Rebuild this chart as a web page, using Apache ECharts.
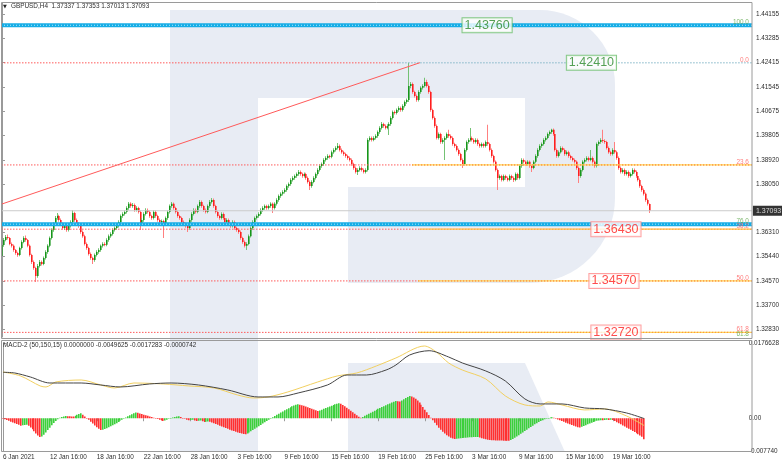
<!DOCTYPE html>
<html><head><meta charset="utf-8">
<script src="https://cdn.jsdelivr.net/npm/echarts@6/dist/echarts.min.js"></script>
<style>html,body{margin:0;padding:0;background:#fff}#c{width:782px;height:464px}</style>
</head><body><div id="c"></div><script>
// ---------------- DATA ----------------
const symbolTitle = 'GBPUSD,H4  1.37337 1.37353 1.37013 1.37093';
const macdTitle = 'MACD-2 (50,150,15) 0.0000000 -0.0049625 -0.0017283 -0.0000742';

// H4 candles: [open, close, low, high]
const candles = [
[1.3547,1.3586,1.3541,1.3593],[1.3586,1.3604,1.3580,1.3611],[1.3604,1.3615,1.3600,1.3622],[1.3615,1.3611,1.3606,1.3624],[1.3611,1.3590,1.3585,1.3615],
[1.3590,1.3583,1.3577,1.3595],[1.3583,1.3568,1.3562,1.3588],[1.3568,1.3557,1.3551,1.3572],[1.3557,1.3550,1.3544,1.3562],[1.3550,1.3575,1.3546,1.3580],
[1.3575,1.3597,1.3570,1.3603],[1.3597,1.3611,1.3592,1.3618],[1.3611,1.3604,1.3598,1.3620],[1.3604,1.3583,1.3578,1.3608],[1.3583,1.3550,1.3545,1.3588],
[1.3550,1.3525,1.3518,1.3555],[1.3525,1.3503,1.3497,1.3530],[1.3503,1.3475,1.3453,1.3508],[1.3475,1.3511,1.3468,1.3518],[1.3511,1.3525,1.3505,1.3532],
[1.3525,1.3518,1.3512,1.3530],[1.3518,1.3539,1.3513,1.3545],[1.3539,1.3561,1.3534,1.3567],[1.3561,1.3583,1.3555,1.3589],[1.3583,1.3611,1.3578,1.3617],
[1.3611,1.3640,1.3606,1.3646],[1.3640,1.3662,1.3634,1.3668],[1.3662,1.3683,1.3656,1.3690],[1.3683,1.3690,1.3677,1.3701],[1.3690,1.3676,1.3670,1.3695],
[1.3676,1.3662,1.3656,1.3681],[1.3662,1.3647,1.3641,1.3667],[1.3647,1.3654,1.3640,1.3660],[1.3654,1.3640,1.3634,1.3659],[1.3640,1.3654,1.3635,1.3660],
[1.3654,1.3669,1.3649,1.3675],[1.3669,1.3701,1.3664,1.3712],[1.3701,1.3676,1.3670,1.3706],[1.3676,1.3662,1.3656,1.3681],[1.3662,1.3654,1.3648,1.3668],
[1.3654,1.3633,1.3627,1.3659],[1.3633,1.3618,1.3612,1.3638],[1.3618,1.3590,1.3584,1.3623],[1.3590,1.3575,1.3569,1.3595],[1.3575,1.3554,1.3548,1.3580],
[1.3554,1.3539,1.3533,1.3559],[1.3539,1.3532,1.3518,1.3544],[1.3532,1.3550,1.3526,1.3556],[1.3550,1.3561,1.3545,1.3567],[1.3561,1.3568,1.3555,1.3574],
[1.3568,1.3583,1.3562,1.3588],[1.3583,1.3590,1.3577,1.3596],[1.3590,1.3587,1.3582,1.3596],[1.3587,1.3604,1.3582,1.3610],[1.3604,1.3618,1.3598,1.3624],
[1.3618,1.3626,1.3612,1.3632],[1.3626,1.3640,1.3620,1.3646],[1.3640,1.3647,1.3635,1.3653],[1.3647,1.3654,1.3641,1.3660],[1.3654,1.3669,1.3649,1.3675],
[1.3669,1.3690,1.3663,1.3696],[1.3690,1.3698,1.3684,1.3704],[1.3698,1.3705,1.3692,1.3711],[1.3705,1.3719,1.3699,1.3725],[1.3719,1.3734,1.3713,1.3741],
[1.3734,1.3726,1.3720,1.3740],[1.3726,1.3730,1.3720,1.3737],[1.3730,1.3712,1.3706,1.3735],[1.3712,1.3719,1.3707,1.3725],[1.3719,1.3705,1.3699,1.3724],
[1.3705,1.3662,1.3640,1.3710],[1.3662,1.3676,1.3656,1.3682],[1.3676,1.3698,1.3670,1.3704],[1.3698,1.3712,1.3692,1.3718],[1.3712,1.3705,1.3699,1.3717],
[1.3705,1.3690,1.3684,1.3710],[1.3690,1.3683,1.3677,1.3695],[1.3683,1.3705,1.3678,1.3711],[1.3705,1.3690,1.3684,1.3710],[1.3690,1.3676,1.3670,1.3695],
[1.3676,1.3669,1.3663,1.3681],[1.3669,1.3672,1.3663,1.3678],[1.3672,1.3662,1.3611,1.3677],[1.3662,1.3683,1.3656,1.3689],[1.3683,1.3705,1.3677,1.3711],
[1.3705,1.3726,1.3699,1.3732],[1.3726,1.3734,1.3720,1.3741],[1.3734,1.3719,1.3713,1.3739],[1.3719,1.3705,1.3699,1.3724],[1.3705,1.3690,1.3684,1.3710],
[1.3690,1.3683,1.3677,1.3695],[1.3683,1.3669,1.3663,1.3688],[1.3669,1.3662,1.3656,1.3674],[1.3662,1.3654,1.3648,1.3667],[1.3654,1.3647,1.3633,1.3659],
[1.3647,1.3676,1.3641,1.3682],[1.3676,1.3698,1.3670,1.3704],[1.3698,1.3712,1.3692,1.3718],[1.3712,1.3705,1.3699,1.3717],[1.3705,1.3726,1.3700,1.3732],
[1.3726,1.3741,1.3720,1.3748],[1.3741,1.3726,1.3720,1.3746],[1.3726,1.3712,1.3706,1.3731],[1.3712,1.3705,1.3699,1.3717],[1.3705,1.3726,1.3700,1.3732],
[1.3726,1.3741,1.3720,1.3748],[1.3741,1.3748,1.3735,1.3755],[1.3748,1.3726,1.3720,1.3753],[1.3726,1.3705,1.3699,1.3731],[1.3705,1.3690,1.3684,1.3710],
[1.3690,1.3683,1.3677,1.3695],[1.3683,1.3698,1.3678,1.3704],[1.3698,1.3683,1.3677,1.3703],[1.3683,1.3669,1.3663,1.3688],[1.3669,1.3676,1.3663,1.3682],
[1.3676,1.3662,1.3656,1.3681],[1.3662,1.3654,1.3648,1.3667],[1.3654,1.3669,1.3649,1.3675],[1.3669,1.3647,1.3641,1.3674],[1.3647,1.3640,1.3634,1.3652],
[1.3640,1.3633,1.3627,1.3645],[1.3633,1.3611,1.3605,1.3638],[1.3611,1.3597,1.3591,1.3616],[1.3597,1.3583,1.3577,1.3602],[1.3583,1.3590,1.3568,1.3596],
[1.3590,1.3618,1.3585,1.3624],[1.3618,1.3647,1.3613,1.3653],[1.3647,1.3669,1.3641,1.3675],[1.3669,1.3683,1.3663,1.3689],[1.3683,1.3690,1.3678,1.3696],
[1.3690,1.3698,1.3684,1.3704],[1.3698,1.3712,1.3692,1.3718],[1.3712,1.3719,1.3706,1.3725],[1.3719,1.3726,1.3713,1.3732],[1.3726,1.3719,1.3713,1.3731],
[1.3719,1.3726,1.3714,1.3732],[1.3726,1.3734,1.3720,1.3740],[1.3734,1.3719,1.3701,1.3739],[1.3719,1.3734,1.3714,1.3740],[1.3734,1.3748,1.3728,1.3754],
[1.3748,1.3762,1.3742,1.3768],[1.3762,1.3770,1.3756,1.3776],[1.3770,1.3777,1.3764,1.3783],[1.3777,1.3784,1.3771,1.3790],[1.3784,1.3798,1.3778,1.3804],
[1.3798,1.3805,1.3792,1.3811],[1.3805,1.3820,1.3799,1.3826],[1.3820,1.3827,1.3814,1.3833],[1.3827,1.3834,1.3821,1.3840],[1.3834,1.3841,1.3828,1.3847],
[1.3841,1.3849,1.3835,1.3856],[1.3849,1.3841,1.3835,1.3854],[1.3841,1.3834,1.3828,1.3846],[1.3834,1.3841,1.3829,1.3847],[1.3841,1.3827,1.3821,1.3846],
[1.3827,1.3813,1.3807,1.3832],[1.3813,1.3798,1.3784,1.3818],[1.3798,1.3813,1.3792,1.3819],[1.3813,1.3827,1.3808,1.3833],[1.3827,1.3841,1.3822,1.3847],
[1.3841,1.3856,1.3836,1.3862],[1.3856,1.3870,1.3850,1.3876],[1.3870,1.3877,1.3864,1.3883],[1.3877,1.3892,1.3871,1.3898],[1.3892,1.3899,1.3886,1.3905],
[1.3899,1.3906,1.3893,1.3912],[1.3906,1.3903,1.3897,1.3911],[1.3903,1.3920,1.3898,1.3926],[1.3920,1.3928,1.3914,1.3934],[1.3928,1.3935,1.3922,1.3941],
[1.3935,1.3942,1.3929,1.3953],[1.3942,1.3928,1.3922,1.3947],[1.3928,1.3920,1.3914,1.3933],[1.3920,1.3913,1.3907,1.3925],[1.3913,1.3906,1.3900,1.3918],
[1.3906,1.3899,1.3893,1.3911],[1.3899,1.3892,1.3886,1.3904],[1.3892,1.3877,1.3871,1.3897],[1.3877,1.3863,1.3857,1.3882],[1.3863,1.3849,1.3843,1.3868],
[1.3849,1.3856,1.3838,1.3862],[1.3856,1.3863,1.3850,1.3869],[1.3863,1.3856,1.3850,1.3868],[1.3856,1.3849,1.3843,1.3861],[1.3849,1.3856,1.3843,1.3862],
[1.3856,1.3964,1.3850,1.3970],[1.3964,1.3971,1.3958,1.3977],[1.3971,1.3964,1.3958,1.3976],[1.3964,1.3971,1.3959,1.3977],[1.3971,1.3978,1.3965,1.3984],
[1.3978,1.3992,1.3972,1.3998],[1.3992,1.4007,1.3986,1.4013],[1.4007,1.4021,1.4001,1.4028],[1.4021,1.4014,1.4008,1.4026],[1.4014,1.4007,1.4001,1.4019],
[1.4007,1.4014,1.4002,1.4020],[1.4014,1.4021,1.3982,1.4027],[1.4021,1.4043,1.4015,1.4049],[1.4043,1.4064,1.4037,1.4070],[1.4064,1.4061,1.4055,1.4070],
[1.4061,1.4071,1.4055,1.4077],[1.4071,1.4079,1.4065,1.4085],[1.4079,1.4071,1.4065,1.4084],[1.4071,1.4086,1.4066,1.4092],[1.4086,1.4100,1.4080,1.4106],
[1.4100,1.4107,1.4094,1.4113],[1.4107,1.4158,1.4100,1.4241],[1.4158,1.4165,1.4150,1.4172],[1.4165,1.4136,1.4130,1.4170],[1.4136,1.4122,1.4116,1.4141],
[1.4122,1.4107,1.4101,1.4127],[1.4107,1.4136,1.4102,1.4142],[1.4136,1.4151,1.4130,1.4157],[1.4151,1.4158,1.4145,1.4164],[1.4158,1.4172,1.4152,1.4187],
[1.4172,1.4158,1.4152,1.4180],[1.4158,1.4136,1.4130,1.4163],[1.4136,1.4071,1.4065,1.4141],[1.4071,1.4043,1.4037,1.4076],[1.4043,1.4014,1.4008,1.4048],
[1.4014,1.3971,1.3965,1.4019],[1.3971,1.3985,1.3965,1.3991],[1.3985,1.3956,1.3950,1.3990],[1.3956,1.3964,1.3950,1.3970],[1.3964,1.3971,1.3892,1.3977],
[1.3971,1.3985,1.3965,1.3991],[1.3985,1.3978,1.3972,1.4000],[1.3978,1.3971,1.3965,1.3983],[1.3971,1.3949,1.3943,1.3976],[1.3949,1.3942,1.3936,1.3954],
[1.3942,1.3928,1.3922,1.3947],[1.3928,1.3913,1.3907,1.3933],[1.3913,1.3892,1.3886,1.3918],[1.3892,1.3877,1.3863,1.3897],[1.3877,1.3928,1.3872,1.3934],
[1.3928,1.3956,1.3922,1.3962],[1.3956,1.3964,1.3950,1.3970],[1.3964,1.3971,1.3958,1.4007],[1.3971,1.3964,1.3958,1.3976],[1.3964,1.3956,1.3950,1.3969],
[1.3956,1.3964,1.3951,1.3970],[1.3964,1.3949,1.3943,1.3969],[1.3949,1.3942,1.3936,1.3954],[1.3942,1.3949,1.3937,1.3955],[1.3949,1.3942,1.3936,1.3954],
[1.3942,1.3956,1.3937,1.3962],[1.3956,1.3949,1.3943,1.4018],[1.3949,1.3928,1.3922,1.3954],[1.3928,1.3906,1.3900,1.3933],[1.3906,1.3885,1.3879,1.3911],
[1.3885,1.3856,1.3850,1.3890],[1.3856,1.3827,1.3784,1.3861],[1.3827,1.3834,1.3821,1.3840],[1.3834,1.3820,1.3814,1.3839],[1.3820,1.3834,1.3815,1.3840],
[1.3834,1.3827,1.3821,1.3839],[1.3827,1.3820,1.3814,1.3832],[1.3820,1.3834,1.3815,1.3840],[1.3834,1.3827,1.3821,1.3839],[1.3827,1.3820,1.3813,1.3832],
[1.3820,1.3841,1.3815,1.3847],[1.3841,1.3827,1.3821,1.3846],[1.3827,1.3870,1.3822,1.3876],[1.3870,1.3892,1.3864,1.3898],[1.3892,1.3885,1.3879,1.3897],
[1.3885,1.3877,1.3871,1.3890],[1.3877,1.3885,1.3872,1.3891],[1.3885,1.3870,1.3864,1.3890],[1.3870,1.3863,1.3849,1.3875],[1.3863,1.3885,1.3858,1.3891],
[1.3885,1.3906,1.3880,1.3912],[1.3906,1.3928,1.3900,1.3934],[1.3928,1.3942,1.3922,1.3948],[1.3942,1.3949,1.3936,1.3955],[1.3949,1.3964,1.3944,1.3970],
[1.3964,1.3971,1.3958,1.3977],[1.3971,1.3985,1.3966,1.3991],[1.3985,1.3992,1.3979,1.3998],[1.3992,1.4000,1.3986,1.4004],[1.4000,1.3985,1.3979,1.4005],
[1.3985,1.3928,1.3922,1.3990],[1.3928,1.3906,1.3900,1.3933],[1.3906,1.3920,1.3901,1.3926],[1.3920,1.3935,1.3915,1.3941],[1.3935,1.3928,1.3922,1.3940],
[1.3928,1.3913,1.3907,1.3933],[1.3913,1.3920,1.3908,1.3926],[1.3920,1.3906,1.3900,1.3925],[1.3906,1.3899,1.3893,1.3911],[1.3899,1.3892,1.3886,1.3904],
[1.3892,1.3885,1.3879,1.3897],[1.3885,1.3863,1.3857,1.3890],[1.3863,1.3834,1.3809,1.3868],[1.3834,1.3856,1.3828,1.3862],[1.3856,1.3885,1.3850,1.3891],
[1.3885,1.3892,1.3879,1.3898],[1.3892,1.3899,1.3886,1.3905],[1.3899,1.3892,1.3886,1.3904],[1.3892,1.3899,1.3887,1.3928],[1.3899,1.3885,1.3879,1.3904],
[1.3885,1.3870,1.3864,1.3890],[1.3870,1.3949,1.3865,1.3955],[1.3949,1.3956,1.3943,1.3962],[1.3956,1.3964,1.3950,1.3970],[1.3964,1.3960,1.3954,1.4000],
[1.3960,1.3956,1.3950,1.3966],[1.3956,1.3935,1.3929,1.3961],[1.3935,1.3920,1.3914,1.3940],[1.3920,1.3913,1.3907,1.3925],[1.3913,1.3928,1.3908,1.3934],
[1.3928,1.3920,1.3914,1.3956],[1.3920,1.3899,1.3893,1.3925],[1.3899,1.3863,1.3857,1.3904],[1.3863,1.3849,1.3843,1.3868],[1.3849,1.3856,1.3843,1.3862],
[1.3856,1.3841,1.3835,1.3861],[1.3841,1.3849,1.3836,1.3855],[1.3849,1.3834,1.3828,1.3854],[1.3834,1.3841,1.3829,1.3847],[1.3841,1.3856,1.3836,1.3862],
[1.3856,1.3849,1.3843,1.3861],[1.3849,1.3834,1.3828,1.3854],[1.3834,1.3820,1.3814,1.3839],[1.3820,1.3798,1.3792,1.3825],[1.3798,1.3784,1.3778,1.3803],
[1.3784,1.3770,1.3764,1.3789],[1.3770,1.3748,1.3742,1.3775],[1.3748,1.3734,1.3728,1.3753],[1.37337,1.37093,1.37013,1.37353]
];

// MACD histogram, one value per candle
const macdHist = [
-0.00012,-0.00024,-0.00042,-0.00061,-0.00080,-0.00099,-0.00118,-0.00137,-0.00156,-0.00175,
-0.00168,-0.00160,-0.00156,-0.00179,-0.00217,-0.00260,-0.00307,-0.00359,-0.00406,-0.00444,
-0.00434,-0.00389,-0.00335,-0.00278,-0.00222,-0.00165,-0.00113,-0.00066,-0.00024,0.00009,
0.00028,0.00042,0.00054,0.00050,0.00045,0.00042,0.00040,0.00059,0.00080,0.00099,
0.00118,0.00085,0.00042,0.00005,-0.00035,-0.00080,-0.00125,-0.00170,-0.00212,-0.00250,
-0.00278,-0.00271,-0.00255,-0.00236,-0.00215,-0.00191,-0.00168,-0.00142,-0.00116,-0.00090,
-0.00061,-0.00033,-0.00007,0.00019,0.00045,0.00071,0.00094,0.00118,0.00137,0.00127,
0.00113,0.00099,0.00085,0.00071,0.00057,0.00042,0.00028,0.00014,0.00000,-0.00019,
-0.00038,-0.00054,-0.00068,-0.00052,-0.00033,-0.00014,0.00005,0.00019,0.00031,0.00040,
0.00047,0.00028,0.00007,-0.00014,-0.00033,-0.00050,-0.00042,-0.00035,-0.00052,-0.00068,
-0.00061,-0.00054,-0.00073,-0.00090,-0.00083,-0.00076,-0.00085,-0.00099,-0.00118,-0.00137,
-0.00156,-0.00175,-0.00194,-0.00212,-0.00231,-0.00250,-0.00269,-0.00288,-0.00304,-0.00321,
-0.00335,-0.00349,-0.00361,-0.00371,-0.00378,-0.00361,-0.00335,-0.00307,-0.00278,-0.00250,
-0.00219,-0.00189,-0.00158,-0.00127,-0.00097,-0.00066,-0.00035,-0.00007,0.00024,0.00052,
0.00080,0.00109,0.00135,0.00160,0.00186,0.00212,0.00236,0.00260,0.00281,0.00300,
0.00316,0.00330,0.00321,0.00307,0.00295,0.00278,0.00262,0.00245,0.00227,0.00208,
0.00186,0.00170,0.00184,0.00203,0.00222,0.00241,0.00260,0.00278,0.00295,0.00312,
0.00328,0.00342,0.00354,0.00340,0.00312,0.00281,0.00248,0.00212,0.00177,0.00142,
0.00106,0.00071,0.00038,0.00009,0.00031,0.00057,0.00080,0.00104,0.00127,0.00151,
0.00175,0.00198,0.00222,0.00243,0.00264,0.00286,0.00307,0.00328,0.00349,0.00371,
0.00389,0.00408,0.00401,0.00396,0.00420,0.00448,0.00479,0.00505,0.00524,0.00514,
0.00491,0.00460,0.00420,0.00373,0.00321,0.00264,0.00203,0.00142,0.00076,0.00014,
-0.00047,-0.00106,-0.00165,-0.00222,-0.00274,-0.00321,-0.00363,-0.00401,-0.00432,-0.00458,
-0.00477,-0.00491,-0.00486,-0.00479,-0.00472,-0.00467,-0.00463,-0.00458,-0.00453,-0.00451,
-0.00448,-0.00446,-0.00444,-0.00441,-0.00455,-0.00472,-0.00486,-0.00498,-0.00507,-0.00514,
-0.00519,-0.00522,-0.00524,-0.00526,-0.00527,-0.00528,-0.00529,-0.00530,-0.00531,-0.00532,
-0.00514,-0.00491,-0.00463,-0.00432,-0.00401,-0.00368,-0.00335,-0.00302,-0.00269,-0.00236,
-0.00205,-0.00175,-0.00144,-0.00116,-0.00090,-0.00066,-0.00045,-0.00026,-0.00009,0.00007,
0.00019,0.00026,0.00009,-0.00009,-0.00028,-0.00047,-0.00066,-0.00085,-0.00104,-0.00123,
-0.00142,-0.00160,-0.00179,-0.00196,-0.00210,-0.00217,-0.00203,-0.00184,-0.00163,-0.00142,
-0.00123,-0.00104,-0.00087,-0.00073,-0.00061,-0.00052,-0.00045,-0.00050,-0.00042,-0.00035,
-0.00040,-0.00033,-0.00042,-0.00066,-0.00092,-0.00118,-0.00144,-0.00170,-0.00196,-0.00222,
-0.00248,-0.00274,-0.00300,-0.00326,-0.00352,-0.00380,-0.00408,-0.00439,-0.0049625
];

// MACD lines read at sample candles: [candle index, value]
const macdMain = [[0,0.01086],[6,0.01070],[14,0.00975],[24,0.00833],[40,0.00833],[50,0.00786],[60,0.00739],[75,0.00810],
[86,0.00833],[100,0.00786],[115,0.00668],[130.5,0.00503],[140.7,0.00503],[151,0.00597],[166,0.00786],[176,0.01022],
[186,0.01022],[196,0.01140],[201,0.01258],[208,0.01494],[218,0.01596],[228,0.01447],[235,0.01306],[247,0.01117],
[257,0.00881],[267,0.00456],[274.8,0.00338],[286,0.00338],[297.6,0.00243],[307.7,0.00220],[319,0.00125],[328,-0.0000742]];
const macdSignal = [[0,0.01093],[9,0.00999],[19,0.00763],[22,0.00739],[27,0.00857],[40,0.00904],[50,0.00786],[57,0.00715],
[67,0.00833],[82,0.00810],[95,0.00763],[108,0.00715],[120,0.00550],[128,0.00479],[135.6,0.00503],[145.7,0.00621],
[161,0.00857],[171,0.00999],[181,0.01070],[191,0.01235],[201,0.01424],[215.6,0.01707],[221.7,0.01565],[228,0.01306],
[235,0.01140],[247,0.00928],[257,0.00527],[267,0.00314],[274.8,0.00290],[278.8,0.00385],[286,0.00314],[297.6,0.00196],
[307.7,0.00220],[319,0.00054],[328,-0.0017283]];

// price axis ticks
const priceTicks = [1.44155,1.43285,1.42415,1.41545,1.40675,1.39805,1.38920,1.38050,1.36310,1.35440,1.34570,1.33700,1.32830];
const macdTicks = [0.0176628, 0, -0.00774];
const macdTickLabels = ['0.0176628','0.00','-0.007740'];
// time axis ticks
const xTickBars = [0,24,48,72,96,120,144,168,192,216,240,264,288,312];
const xTickLabels = ['6 Jan 2021','12 Jan 16:00','18 Jan 16:00','22 Jan 16:00','28 Jan 16:00','3 Feb 16:00','9 Feb 16:00',
'15 Feb 16:00','19 Feb 16:00','25 Feb 16:00','3 Mar 16:00','9 Mar 16:00','15 Mar 16:00','19 Mar 16:00'];

// drawn objects
const blueLevels = [1.43760, 1.36610];
const fibLevels = [1.42410, 1.38740, 1.36430, 1.34570, 1.32720];
const currentPrice = 1.37093;
const trendLine = [[-0.5, 1.37324], [211.5, 1.42415]];
const fibPctTexts = ['100.0','0.0','23.6','76.0','38.2','50.0','61.8','61.8'];
const fibPctPrices = [1.43760,1.42410,1.38740,1.36610,1.36430,1.34570,1.32720,1.32560];
const fibPctGreen = [true,false,false,true,false,false,false,true];
const boxTexts = ['1.43760','1.42410','1.36430','1.34570','1.32720'];
const boxPrices = [1.43760,1.42410,1.36430,1.34570,1.32720];
const boxGreen = [true,true,false,false,false];

// ---------------- LAYOUT / STYLE ----------------
const SLOTS = 380;
const XMIN = -0.5, XMAX = SLOTS - 0.5;
const FONT = '"Liberation Sans", Arial, sans-serif';
const FS = 6.4;
const TXT = '#2e2e2e';
const FRAME = '#9a9a9a';
const fibRedEnd = [201, XMAX, XMAX, XMAX, XMAX];
const fibRightStart = [201, 207.5, 211.5, 210.5, 210.5];
const boxAnchorBars = [245.5, 298.3, 310.7, 309.7, 310.7];
const WM = '#e8ecf4';
const CG = '#16961a', CR = '#ff1e1e', WG = '#74c274', WR = '#ff8080';
const HG = '#3ccf3c', HR = '#ff3030';
const histColors = macdHist.map((v, i) => (i > 0 && v >= macdHist[i - 1]) ? HG : HR);

const candleTable = candles.map((c, i) => [i, c[0], c[1], c[2], c[3]]);
const histTable = macdHist.map((v, i) => [i, v]);

function hline(p, x0, x1, color, width, type, z) {
  return {type: 'line', xAxisIndex: 1, yAxisIndex: 0, data: [[x0, p], [x1, p]], symbol: 'none',
    lineStyle: {color, width, type}, silent: true, z, animation: false};
}

const series = [];
series.push({type: 'custom', xAxisIndex: 1, yAxisIndex: 0, data: candleTable, z: 2, silent: true,
  encode: {x: 0, y: [1, 2, 3, 4]},
  renderItem: (params, api) => {
    const i = api.value(0), o = api.value(1), c = api.value(2), l = api.value(3), h = api.value(4);
    const po = api.coord([i, o]), pc = api.coord([i, c]), pl = api.coord([i, l]), ph = api.coord([i, h]);
    const X = Math.round(po[0] - 0.8);
    const up = c >= o;
    const top = Math.min(po[1], pc[1]), bot = Math.max(po[1], pc[1]);
    return {type: 'group', children: [
      {type: 'rect', shape: {x: X, y: ph[1], width: 1, height: Math.max(pl[1] - ph[1], 1)}, style: {fill: up ? WG : WR}},
      {type: 'rect', shape: {x: X, y: top, width: 1.6, height: Math.max(bot - top, 1)}, style: {fill: up ? CG : CR}}
    ]};
  }});
series.push(hline(currentPrice, XMIN, XMAX, '#cccccc', 1, 'solid', 3));
fibLevels.forEach((p, k) => {
  series.push(hline(p, XMIN, fibRedEnd[k], '#ff5a5a', 1, [1.5, 1.5], 4));
  if (k === 0) {
    series.push(hline(p, fibRightStart[k], XMAX, '#7fb4c6', 1, [1.5, 1.5], 4));
  } else {
    series.push(hline(p, fibRightStart[k], XMAX, '#ffd75a', 1.2, 'solid', 5));
    series.push(hline(p, fibRightStart[k], XMAX, '#ff8a3a', 1, [1, 2], 6));
  }
});
blueLevels.forEach(p => {
  series.push(hline(p, XMIN, XMAX, '#16ade6', 4, 'solid', 7));
  series.push(hline(p, XMIN, XMAX, '#aee6f9', 1, [1, 2], 8));
});
series.push({type: 'line', xAxisIndex: 1, yAxisIndex: 0, data: trendLine, symbol: 'none',
  lineStyle: {color: '#ff5a5a', width: 1}, z: 6, silent: true});
series.push({type: 'scatter', xAxisIndex: 1, yAxisIndex: 0, symbolSize: 0, clip: false, z: 20, silent: true,
  data: fibPctTexts.map((t, i) => ({value: [XMAX, fibPctPrices[i]],
    label: {show: true, position: 'left', distance: 3, offset: [0, -3], formatter: t, fontSize: FS, fontFamily: FONT,
      color: fibPctGreen[i] ? '#5aa447' : '#ff5c5c'}}))});
series.push({type: 'scatter', xAxisIndex: 1, yAxisIndex: 0, symbolSize: 0, clip: false, z: 21, silent: true,
  data: boxTexts.map((t, i) => ({value: [boxAnchorBars[i], boxPrices[i]],
    label: {show: true, position: 'inside', formatter: t, fontSize: 12.5, fontFamily: FONT,
      color: boxGreen[i] ? '#2a8a2a' : '#ff2020', backgroundColor: '#fff',
      borderColor: boxGreen[i] ? '#6cbf6c' : '#ff8a8a', borderWidth: 1, padding: [1, 2, 0, 2]}}))});
series.push({type: 'scatter', xAxisIndex: 1, yAxisIndex: 0, symbolSize: 0, clip: false, z: 22, silent: true,
  data: [{value: [XMAX, currentPrice], label: {show: true, position: 'right', distance: 1, formatter: currentPrice.toFixed(5),
    fontSize: 7, fontFamily: FONT, color: '#fff', backgroundColor: '#000', padding: [2, 3, 1, 3]}}]});
series.push({type: 'custom', xAxisIndex: 3, yAxisIndex: 1, data: histTable, z: 2, silent: true,
  encode: {x: 0, y: 1},
  renderItem: (params, api) => {
    const i = api.value(0), v = api.value(1);
    const p0 = api.coord([i, 0]), p1 = api.coord([i, v]);
    const X = Math.round(p0[0] - 0.8);
    const top = Math.min(p0[1], p1[1]), bot = Math.max(p0[1], p1[1]);
    return {type: 'rect', shape: {x: X, y: top, width: 1.6, height: Math.max(bot - top, 0.5)}, style: {fill: histColors[params.dataIndex]}};
  }});
series.push({type: 'line', xAxisIndex: 3, yAxisIndex: 1, data: macdSignal, symbol: 'none', smooth: 0.3,
  lineStyle: {color: '#f2d060', width: 1}, z: 3, silent: true});
series.push({type: 'line', xAxisIndex: 3, yAxisIndex: 1, data: macdMain, symbol: 'none', smooth: 0.3,
  lineStyle: {color: '#444444', width: 1}, z: 4, silent: true});

const cats = Array.from({length: SLOTS}, (_, i) => String(i));
const option = {
  animation: false,
  backgroundColor: '#ffffff',
  grid: [
    {left: 1, top: 3, width: 751, height: 334},
    {left: 1, top: 343.5, width: 751, height: 107.5}
  ],
  xAxis: [
    {type: 'category', gridIndex: 0, data: cats, boundaryGap: true, show: false},
    {type: 'value', gridIndex: 0, min: XMIN, max: XMAX, show: false},
    {type: 'category', gridIndex: 1, data: cats, boundaryGap: true,
      axisLine: {show: false},
      axisTick: {show: true, length: 3, alignWithLabel: true, interval: (i) => xTickBars.includes(i), lineStyle: {color: FRAME}},
      axisLabel: {interval: (i) => xTickBars.includes(i), formatter: (v) => xTickLabels[xTickBars.indexOf(Number(v))] || '',
        align: 'left', fontSize: FS, fontFamily: FONT, color: TXT, margin: 3}},
    {type: 'value', gridIndex: 1, min: XMIN, max: XMAX, show: false}
  ],
  yAxis: [
    {type: 'value', gridIndex: 0, position: 'right', min: 1.32554, max: 1.44561,
      splitLine: {show: false}, axisLine: {show: true, lineStyle: {color: FRAME}},
      axisTick: {show: true, length: 3, customValues: priceTicks, lineStyle: {color: FRAME}},
      axisLabel: {customValues: priceTicks, formatter: v => v.toFixed(5), fontSize: FS, fontFamily: FONT, color: TXT, margin: 4}},
    {type: 'value', gridIndex: 1, position: 'right', min: -0.00774, max: 0.0176628,
      splitLine: {show: false}, axisLine: {show: true, lineStyle: {color: FRAME}},
      axisTick: {show: true, length: 3, customValues: macdTicks, lineStyle: {color: FRAME}},
      axisLabel: {customValues: macdTicks, fontSize: FS, fontFamily: FONT, color: TXT, margin: 4,
        formatter: v => { let b = 0, d = 1; macdTicks.forEach((t, i) => { if (Math.abs(t - v) < d) { d = Math.abs(t - v); b = i; } }); return macdTickLabels[b]; }}}
  ],
  graphic: [
    {type: 'rect', z: 0, silent: true, shape: {x: 170, y: 10, width: 88, height: 442}, style: {fill: WM}},
    {type: 'rect', z: 0, silent: true, shape: {x: 258, y: 10, width: 357, height: 273, r: [0, 75, 85, 0]}, style: {fill: WM}},
    {type: 'rect', z: 1, silent: true, shape: {x: 258, y: 98, width: 267, height: 89}, style: {fill: '#ffffff'}},
    {type: 'rect', z: 1, silent: true, shape: {x: 258, y: 187, width: 90, height: 96}, style: {fill: '#ffffff'}},
    {type: 'polygon', z: 0, silent: true, shape: {points: [[348, 363], [525, 363], [565, 452], [348, 452]]}, style: {fill: WM}},
    {type: 'rect', z: 30, silent: true, shape: {x: 1.5, y: 2.5, width: 750.5, height: 336}, style: {fill: 'none', stroke: FRAME, lineWidth: 1}},
    {type: 'rect', z: 30, silent: true, shape: {x: 1.5, y: 340.5, width: 750.5, height: 111}, style: {fill: 'none', stroke: FRAME, lineWidth: 1}},
    {type: 'text', z: 31, silent: true, x: 3, y: 6.5, style: {text: '▼', fontSize: 5, fontFamily: '"DejaVu Sans"', fill: '#222', verticalAlign: 'middle'}},
    {type: 'text', z: 31, silent: true, x: 11, y: 6.5, style: {text: symbolTitle, fontSize: FS, fontFamily: FONT, fill: TXT, verticalAlign: 'middle'}},
    {type: 'text', z: 31, silent: true, x: 3, y: 345.5, style: {text: macdTitle, fontSize: FS, fontFamily: FONT, fill: TXT, verticalAlign: 'middle'}}
  ],
  series
};
const chart = echarts.init(document.getElementById('c'), null, {renderer: 'canvas'});
chart.setOption(option);
</script></body></html>
